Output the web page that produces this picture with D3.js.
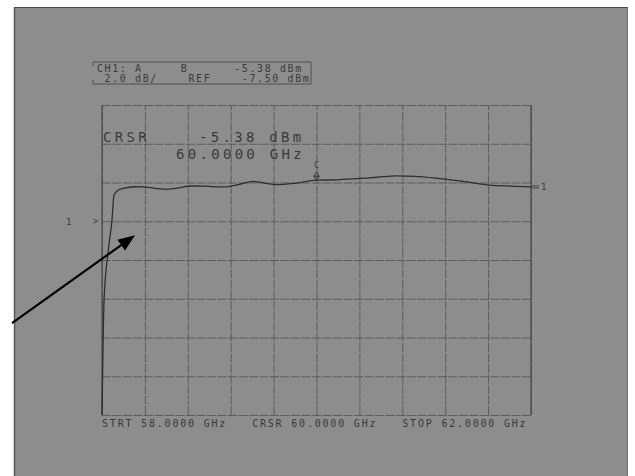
<!DOCTYPE html>
<html><head><meta charset="utf-8">
<script src="https://cdn.jsdelivr.net/npm/d3@7"></script>
<style>
html,body{margin:0;padding:0;background:#fff;}
text{font-family:"DejaVu Sans Mono",monospace;fill:#3a3a3a;white-space:pre;}
</style></head>
<body>
<svg id="c" width="635" height="476"></svg>
<script>
// ---- data ----
const freqGHz = [58.0, 58.009, 58.019, 58.059, 58.093, 58.112, 58.149, 58.196, 58.308, 58.382, 58.494, 58.606,
  58.727, 58.821, 58.96, 59.128, 59.287, 59.408, 59.492, 59.632, 59.8, 60.0, 60.19, 60.378, 60.564, 60.751,
  60.918, 61.151, 61.385, 61.618, 61.804, 62.0];
const powerDBm = [-17.5, -14.16, -11.58, -9.0, -7.45, -6.16, -5.9, -5.8, -5.72, -5.73, -5.8, -5.85,
  -5.77, -5.68, -5.69, -5.73, -5.59, -5.44, -5.51, -5.61, -5.54, -5.38, -5.36, -5.3, -5.23, -5.16,
  -5.18, -5.3, -5.46, -5.64, -5.69, -5.73];
const startGHz = 58.0, stopGHz = 62.0, cursorGHz = 60.0, cursorDBm = -5.38;
const refDBm = -7.5, dbPerDiv = 2.0, xDivs = 10, yDivs = 8, refDivFromBottom = 5;
const headerLine1 = "CH1: A     B      -5.38 dBm";
const headerLine2 = " 2.0 dB/    REF    -7.50 dBm";
const cursorLabel = "CRSR";
const cursorValue = "-5.38 dBm";
const cursorFreq = "60.0000 GHz";
const footerLabels = ["STRT 58.0000 GHz", "CRSR 60.0000 GHz", "STOP 62.0000 GHz"];
const footerFreqs = [58.0, 59.4, 60.8];
const arrowFrom = {f: 57.161, v: -12.76};
const arrowTo = {f: 58.308, v: -8.22};

// ---- chart ----
const svg = d3.select("#c");
const L = 102, R = 531, T = 105, B = 415;
const yMin = refDBm - refDivFromBottom * dbPerDiv;
const yMax = yMin + yDivs * dbPerDiv;
const x = d3.scaleLinear().domain([startGHz, stopGHz]).range([L, R]);
const y = d3.scaleLinear().domain([yMin, yMax]).range([B, T]);

// paper
svg.append("rect").attr("x", 14).attr("y", 7).attr("width", 614).attr("height", 469).attr("fill", "#8d8d8d");
svg.append("line").attr("x1", 14).attr("x2", 628).attr("y1", 7.5).attr("y2", 7.5).attr("stroke", "#4a4a4a").attr("stroke-width", 1);
svg.append("line").attr("x1", 14.5).attr("x2", 14.5).attr("y1", 7).attr("y2", 476).attr("stroke", "#5a5a5a").attr("stroke-width", 1.5);
svg.append("line").attr("x1", 627.5).attr("x2", 627.5).attr("y1", 7).attr("y2", 476).attr("stroke", "#6a6a6a").attr("stroke-width", 1);

// grid via axes
const xt = d3.range(xDivs + 1).map(i => startGHz + i * (stopGHz - startGHz) / xDivs);
const yt = d3.range(yDivs + 1).map(i => yMin + i * dbPerDiv);
const gx = svg.append("g").attr("transform", `translate(0,${B})`)
  .call(d3.axisBottom(x).tickValues(xt).tickSize(-(B - T)).tickFormat(""));
const gy = svg.append("g").attr("transform", `translate(${L},0)`)
  .call(d3.axisLeft(y).tickValues(yt).tickSize(-(R - L)).tickFormat(""));
[gx, gy].forEach(g => {
  g.select(".domain").remove();
  g.selectAll(".tick line").attr("stroke", "#585858").attr("stroke-width", 0.9).attr("stroke-dasharray", "9,1.5");
});
svg.append("line").attr("x1", L).attr("x2", L).attr("y1", T).attr("y2", B).attr("stroke", "#444").attr("stroke-width", 1.1);
svg.append("line").attr("x1", R).attr("x2", R).attr("y1", T).attr("y2", B).attr("stroke", "#444").attr("stroke-width", 1.1);

// trace
const line = d3.line().x((d, i) => x(freqGHz[i])).y((d, i) => y(powerDBm[i])).curve(d3.curveMonotoneX);
svg.append("path").datum(powerDBm).attr("d", line).attr("fill", "none").attr("stroke", "#2e2e2e").attr("stroke-width", 1.3);

// header box
svg.append("path").attr("d", "M93,66 V62 H311 V84 H93 V80").attr("fill", "none").attr("stroke", "#4a4a4a").attr("stroke-width", 0.9);
svg.append("text").attr("x", 97).attr("y", 72).attr("font-size", 10).attr("letter-spacing", 1.6).text(headerLine1);
svg.append("text").attr("x", 97).attr("y", 82).attr("font-size", 10).attr("letter-spacing", 1.6).text(headerLine2);

// cursor readout
const big = s => s.attr("font-size", 14).attr("letter-spacing", 3.3);
big(svg.append("text").attr("x", 103).attr("y", 142).text(cursorLabel));
big(svg.append("text").attr("x", 199).attr("y", 142).text(cursorValue));
big(svg.append("text").attr("x", 176).attr("y", 159).text(cursorFreq));

// footer
svg.selectAll("text.foot").data(footerLabels).enter().append("text").attr("class", "foot")
  .attr("x", (d, i) => x(footerFreqs[i])).attr("y", 427).attr("font-size", 10).attr("letter-spacing", 1.8).text(d => d);

// reference marker left
svg.append("text").attr("x", 66).attr("y", 225).attr("font-size", 9).text("1");
svg.append("text").attr("x", 93).attr("y", 224).attr("font-size", 8).text(">");
// channel end marker right
const yEnd = y(powerDBm[powerDBm.length - 1]);
svg.append("line").attr("x1", R).attr("x2", R + 8).attr("y1", yEnd - 1).attr("y2", yEnd - 1).attr("stroke", "#444");
svg.append("line").attr("x1", R).attr("x2", R + 8).attr("y1", yEnd + 1).attr("y2", yEnd + 1).attr("stroke", "#444");
svg.append("text").attr("x", R + 10).attr("y", yEnd + 3).attr("font-size", 9).text("1");

// cursor marker
const cx = x(cursorGHz), cy = y(cursorDBm);
svg.append("text").attr("x", cx).attr("y", cy - 12).attr("font-size", 8).attr("text-anchor", "middle").text("C");
svg.append("path").attr("d", `M${cx},${cy} L${cx - 2.5},${cy - 4} L${cx},${cy - 8} L${cx + 2.5},${cy - 4} Z M${cx - 3},${cy - 4} H${cx + 3}`)
  .attr("fill", "none").attr("stroke", "#333").attr("stroke-width", 1);

// annotation arrow
const ax1 = x(arrowFrom.f), ay1 = y(arrowFrom.v), ax2 = x(arrowTo.f), ay2 = y(arrowTo.v);
const ang = Math.atan2(ay2 - ay1, ax2 - ax1);
const hl = 17, hw = 6.5;
const bx = ax2 - hl * Math.cos(ang), by = ay2 - hl * Math.sin(ang);
svg.append("line").attr("x1", ax1).attr("y1", ay1).attr("x2", bx).attr("y2", by).attr("stroke", "#000").attr("stroke-width", 2.2);
svg.append("path").attr("d", `M${ax2},${ay2} L${bx - hw * Math.sin(ang)},${by + hw * Math.cos(ang)} L${bx + hw * Math.sin(ang)},${by - hw * Math.cos(ang)} Z`).attr("fill", "#000");
</script>
</body></html>
